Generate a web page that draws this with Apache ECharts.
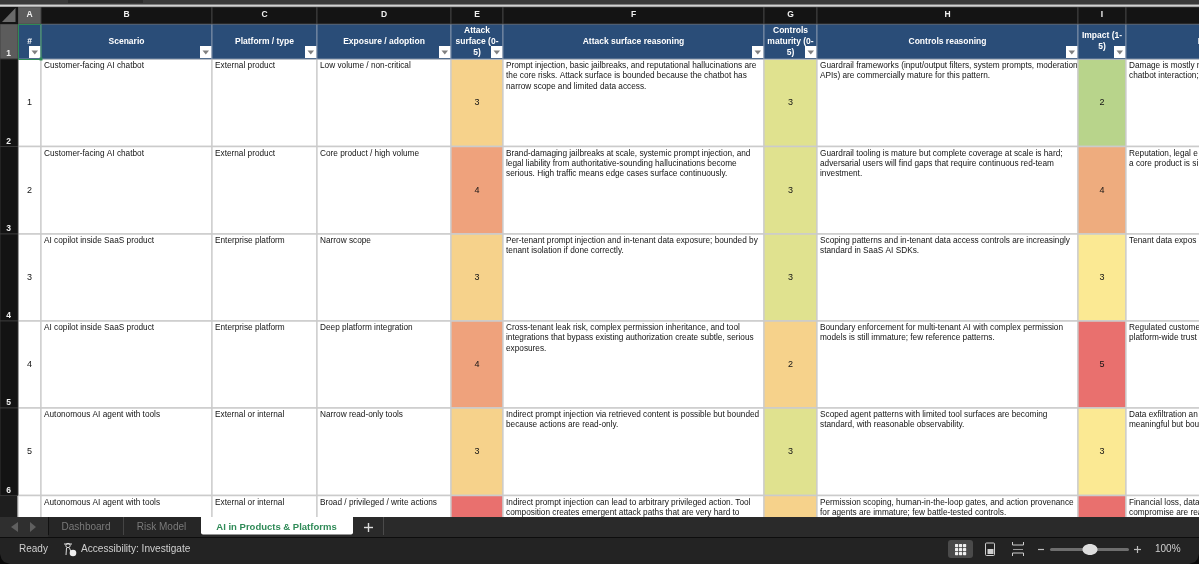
<!DOCTYPE html>
<html>
<head>
<meta charset="utf-8">
<title>AI in Products & Platforms</title>
<script src="https://cdn.jsdelivr.net/npm/echarts@6/dist/echarts.min.js"></script>
<style>
    html, body { margin: 0; padding: 0; background: #1e1e1e; }
    #sheet { width: 1199px; height: 564px; }
</style>
</head>
<body>
<div id="sheet"></div>
<script>
// Sheet contents
const columnLetters = ['A', 'B', 'C', 'D', 'E', 'F', 'G', 'H', 'I', ''];
const sheetRowLabels = ['1', '2', '3', '4', '5', '6'];
const headers = ['#', 'Scenario', 'Platform / type', 'Exposure / adoption', 'Attack\nsurface (0-\n5)', 'Attack surface reasoning',
    'Controls\nmaturity (0-\n5)', 'Controls reasoning', 'Impact (1-\n5)', 'Impact reasoning'];
const rowNumbers = [1, 2, 3, 4, 5, 6];
const scenarios = ['Customer-facing AI chatbot', 'Customer-facing AI chatbot', 'AI copilot inside SaaS product',
    'AI copilot inside SaaS product', 'Autonomous AI agent with tools', 'Autonomous AI agent with tools'];
const platforms = ['External product', 'External product', 'Enterprise platform', 'Enterprise platform',
    'External or internal', 'External or internal'];
const exposures = ['Low volume / non-critical', 'Core product / high volume', 'Narrow scope', 'Deep platform integration',
    'Narrow read-only tools', 'Broad / privileged / write actions'];
const attackScores = [3, 4, 3, 4, 3, 5];
const attackReasoning = [
    'Prompt injection, basic jailbreaks, and reputational hallucinations are\nthe core risks. Attack surface is bounded because the chatbot has\nnarrow scope and limited data access.',
    'Brand-damaging jailbreaks at scale, systemic prompt injection, and\nlegal liability from authoritative-sounding hallucinations become\nserious. High traffic means edge cases surface continuously.',
    'Per-tenant prompt injection and in-tenant data exposure; bounded by\ntenant isolation if done correctly.',
    'Cross-tenant leak risk, complex permission inheritance, and tool\nintegrations that bypass existing authorization create subtle, serious\nexposures.',
    'Indirect prompt injection via retrieved content is possible but bounded\nbecause actions are read-only.',
    'Indirect prompt injection can lead to arbitrary privileged action. Tool\ncomposition creates emergent attack paths that are very hard to'
];
const controlsScores = [3, 3, 3, 2, 3, 2];
const controlsReasoning = [
    'Guardrail frameworks (input/output filters, system prompts, moderation\nAPIs) are commercially mature for this pattern.',
    'Guardrail tooling is mature but complete coverage at scale is hard;\nadversarial users will find gaps that require continuous red-team\ninvestment.',
    'Scoping patterns and in-tenant data access controls are increasingly\nstandard in SaaS AI SDKs.',
    'Boundary enforcement for multi-tenant AI with complex permission\nmodels is still immature; few reference patterns.',
    'Scoped agent patterns with limited tool surfaces are becoming\nstandard, with reasonable observability.',
    'Permission scoping, human-in-the-loop gates, and action provenance\nfor agents are immature; few battle-tested controls.'
];
const impactScores = [2, 4, 3, 5, 3, 5];
const impactReasoning = [
    'Damage is mostly n\nchatbot interaction;',
    'Reputation, legal e\na core product is si',
    'Tenant data expos',
    'Regulated custome\nplatform-wide trust l',
    'Data exfiltration an\nmeaningful but bou',
    'Financial loss, data\ncompromise are rea'
];
const tabNames = ['Dashboard', 'Risk Model', 'AI in Products & Platforms'];

// Layout of the sheet, in window pixels
const columnEdges = [18, 41, 212, 317, 451, 503, 764, 817, 1078, 1126, 1340];
const rowEdges = [59, 146.5, 234, 321, 408, 495.5, 583];
const headerTop = 24;
const headerBottom = 59;
const FONT = '"Liberation Sans", Arial, sans-serif';

const tableColumns = [rowNumbers, scenarios, platforms, exposures, attackScores, attackReasoning,
    controlsScores, controlsReasoning, impactScores, impactReasoning];
const scoreColors = {
    4: {3: '#F6D28B', 4: '#EFA27C', 5: '#E9706E'},
    6: {2: '#F6D28B', 3: '#E0E28F'},
    8: {2: '#B8D48B', 3: '#FBE993', 4: '#EEAC7E', 5: '#E9706E'}
};

const cellData = [];
tableColumns.forEach((column, c) => {
    column.forEach((value, r) => cellData.push([c, r]));
});

function textEl(x, y, text, fill, size, weight, align) {
    return {
        type: 'text',
        style: {
            x: x, y: y, text: text, fill: fill, fontSize: size, fontFamily: FONT,
            fontWeight: weight || 'normal', align: align || 'left', verticalAlign: 'middle'
        }
    };
}

function rectEl(x0, y0, x1, y1, fill, stroke, lineWidth) {
    return {
        type: 'rect',
        shape: {x: x0, y: y0, width: x1 - x0, height: y1 - y0},
        style: {fill: fill, stroke: stroke || null, lineWidth: lineWidth || 0}
    };
}

function renderCell(params, api) {
    const c = api.value(0);
    const r = api.value(1);
    const topLeft = api.coord([columnEdges[c], rowEdges[r]]);
    const bottomRight = api.coord([columnEdges[c + 1], rowEdges[r + 1]]);
    const value = tableColumns[c][r];
    const fill = scoreColors[c] ? scoreColors[c][value] : '#ffffff';
    const children = [rectEl(topLeft[0], topLeft[1], bottomRight[0], bottomRight[1], fill, '#cbcbcb', 1.3)];
    if (typeof value === 'number') {
        children.push(textEl((topLeft[0] + bottomRight[0]) / 2, (topLeft[1] + bottomRight[1]) / 2, String(value), '#141414', 9, 'normal', 'center'));
    } else {
        value.split('\n').forEach((line, i) => {
            children.push(textEl(topLeft[0] + 3, topLeft[1] + 6.8 + i * 10.3, line, '#141414', 8.25));
        });
    }
    return {type: 'group', children: children};
}

function renderHeader(params, api) {
    const c = api.value(0);
    const topLeft = api.coord([columnEdges[c], headerTop]);
    const bottomRight = api.coord([columnEdges[c + 1], headerBottom]);
    const centerX = (topLeft[0] + bottomRight[0]) / 2;
    const centerY = (topLeft[1] + bottomRight[1]) / 2;
    const lines = headers[c].split('\n');
    const children = [rectEl(topLeft[0], topLeft[1], bottomRight[0], bottomRight[1], '#2A4D78', '#8f9eb2', 0.8)];
    lines.forEach((line, i) => {
        children.push(textEl(centerX, centerY + (i - (lines.length - 1) / 2) * 11, line, '#ffffff', 8.5, 'bold', 'center'));
    });
    if (c < headers.length - 1) {
        // filter button
        const bx = bottomRight[0] - 12;
        const by = bottomRight[1] - 13;
        children.push(rectEl(bx, by, bx + 11.5, by + 12, '#ffffff'));
        children.push({
            type: 'polygon',
            shape: {points: [[bx + 2.5, by + 4.5], [bx + 9, by + 4.5], [bx + 5.75, by + 8.5]]},
            style: {fill: '#808080'}
        });
    }
    return {type: 'group', children: children};
}

function renderColumnLetter(params, api) {
    const c = api.value(0);
    const topLeft = api.coord([columnEdges[c], 7]);
    const bottomRight = api.coord([columnEdges[c + 1], headerTop]);
    const selected = c === 0;
    return {
        type: 'group',
        children: [
            rectEl(topLeft[0], topLeft[1], bottomRight[0], bottomRight[1], selected ? '#5c5c5c' : '#141414', '#4a4a4a', 0.8),
            textEl((topLeft[0] + bottomRight[0]) / 2, (topLeft[1] + bottomRight[1]) / 2 - 0.5, columnLetters[c], '#f0f0f0', 8.5, 'bold', 'center')
        ]
    };
}

function renderRowLabel(params, api) {
    const r = api.value(0);
    const top = r === 0 ? headerTop : rowEdges[r - 1];
    const bottom = r === 0 ? headerBottom : rowEdges[r];
    const topLeft = api.coord([0, top]);
    const bottomRight = api.coord([18, bottom]);
    return {
        type: 'group',
        children: [
            rectEl(topLeft[0], topLeft[1], bottomRight[0], bottomRight[1], r === 0 ? '#5c5c5c' : '#131313', '#3c3c3c', 0.8),
            textEl(8.5, bottomRight[1] - 5, sheetRowLabels[r], '#f0f0f0', 8.5, 'bold', 'center')
        ]
    };
}

// Window chrome: title strip, sheet tabs and status bar, laid over the table
function chromeElements() {
    const text = (x, y, str, fill, size, weight, align) => ({
        type: 'text', z: 20,
        style: {x: x, y: y, text: str, fill: fill, fontSize: size, fontFamily: FONT, fontWeight: weight || 'normal', align: align || 'left', verticalAlign: 'middle'}
    });
    const rect = (x, y, w, h, fill, r) => ({type: 'rect', z: 20, shape: {x: x, y: y, width: w, height: h, r: r || 0}, style: {fill: fill}});
    const line = (x1, y1, x2, y2, stroke, w) => ({type: 'line', z: 21, shape: {x1: x1, y1: y1, x2: x2, y2: y2}, style: {stroke: stroke, lineWidth: w || 1}});
    const poly = (points, fill) => ({type: 'polygon', z: 21, shape: {points: points}, style: {fill: fill}});
    const els = [
        // top strip
        rect(0, 0, 1199, 4.5, '#3a3a3a'),
        rect(68, 0, 75, 3, '#2b2b2b'),
        rect(0, 4.5, 1199, 2.2, '#d2d2d2'),
        rect(0, 7, 18, 17, '#141414'),
        poly([[15.5, 8], [15.5, 22], [2, 22]], '#6a6a6a'),
        // selected cell outline
        {type: 'rect', z: 21, shape: {x: 18.5, y: 24.5, width: 22.5, height: 35}, style: {fill: null, stroke: '#2f8a57', lineWidth: 1}},
        rect(39.5, 57.5, 3, 3, '#2f8a57'),
        // tab bar
        rect(0, 517, 1199, 21, '#2a2a2a'),
        rect(0, 517, 201, 21, '#262626'),
        rect(0, 517, 48, 21, '#2f2f2f'),
        poly([[18, 522], [18, 532], [11, 527]], '#5f5f5f'),
        poly([[30, 522], [30, 532], [36, 527]], '#5f5f5f'),
        line(48.5, 517, 48.5, 535, '#111111'),
        line(123.5, 517, 123.5, 535, '#444444'),
        rect(201, 517, 152, 17.5, '#ffffff', [0, 0, 2, 2]),
        line(383.5, 517, 383.5, 535, '#4a4a4a'),
        text(86, 527.5, tabNames[0], '#7a7a7a', 10, 'normal', 'center'),
        text(161.5, 527.5, tabNames[1], '#7a7a7a', 10, 'normal', 'center'),
        text(276.5, 527.5, tabNames[2], '#2f8a57', 9.5, 'bold', 'center'),
        line(364, 527.5, 373, 527.5, '#dddddd', 1.4),
        line(368.5, 523, 368.5, 532, '#dddddd', 1.4),
        // status bar
        rect(0, 537, 1199, 1, '#0d0d0d'),
        rect(0, 538, 1199, 26, '#232323'),
        poly([[0, 554], [1.5, 559], [4, 562], [10, 564], [0, 564]], '#0a0a0a'),
        poly([[1199, 554], [1197.5, 559], [1195, 562], [1189, 564], [1199, 564]], '#0a0a0a'),
        text(19, 549.5, 'Ready', '#cfcfcf', 10),
        text(81, 549.5, 'Accessibility: Investigate', '#cfcfcf', 10.1),
        // accessibility icon
        {type: 'circle', z: 21, shape: {cx: 68, cy: 545.5, r: 2.2}, style: {fill: null, stroke: '#dddddd', lineWidth: 1}},
        line(64, 544, 72, 544, '#dddddd', 1),
        line(66.5, 548, 66, 555, '#dddddd', 1),
        line(69.5, 548, 71, 552, '#dddddd', 1),
        {type: 'circle', z: 21, shape: {cx: 73, cy: 553, r: 3.3}, style: {fill: '#eeeeee'}},
        // view buttons
        rect(948, 540, 25, 18, '#4a4a4a', 3)
    ];
    [0, 1, 2].forEach(i => {
        [0, 1, 2].forEach(j => {
            els.push(rect(955 + i * 4, 544 + j * 4, 3.2, 3.2, '#f0f0f0', 0.6));
        });
    });
    els.push(
        {type: 'rect', z: 21, shape: {x: 985.5, y: 543, width: 9, height: 12.5, r: 1}, style: {fill: null, stroke: '#cfcfcf', lineWidth: 1}},
        rect(987.5, 549, 6, 5, '#cfcfcf'),
        line(1012.5, 542, 1012.5, 545, '#cfcfcf'),
        line(1012.5, 545, 1023.5, 545, '#cfcfcf'),
        line(1023.5, 542, 1023.5, 545, '#cfcfcf'),
        line(1013, 549.5, 1023, 549.5, '#9a9a9a'),
        line(1012.5, 553, 1023.5, 553, '#cfcfcf'),
        line(1012.5, 553, 1012.5, 556, '#cfcfcf'),
        line(1023.5, 553, 1023.5, 556, '#cfcfcf'),
        // zoom slider
        line(1038, 549.5, 1044, 549.5, '#bdbdbd', 1.2),
        rect(1050, 548, 79, 3, '#6e6e6e', 1.5),
        {type: 'ellipse', z: 21, shape: {cx: 1090, cy: 549.5, rx: 7.5, ry: 5.5}, style: {fill: '#dedede'}},
        line(1134, 549.5, 1141, 549.5, '#bdbdbd', 1.2),
        line(1137.5, 546, 1137.5, 553, '#bdbdbd', 1.2),
        text(1155, 549.5, '100%', '#cfcfcf', 10)
    );
    return els;
}

var sheetChart = echarts.init(document.getElementById('sheet'));

var option = {
    animation: false,
    backgroundColor: '#1e1e1e',
    grid: {left: 0, right: 0, top: 0, bottom: 0},
    xAxis: {type: 'value', min: 0, max: 1199, show: false},
    yAxis: {type: 'value', min: 0, max: 564, inverse: true, show: false},
    graphic: {elements: chromeElements()},
    series: [
        {type: 'custom', silent: true, clip: false, z: 2, renderItem: renderCell, data: cellData},
        {type: 'custom', silent: true, clip: false, z: 3, renderItem: renderHeader, data: headers.map((h, i) => [i])},
        {type: 'custom', silent: true, clip: false, z: 3, renderItem: renderColumnLetter, data: columnLetters.map((l, i) => [i])},
        {type: 'custom', silent: true, clip: false, z: 3, renderItem: renderRowLabel, data: sheetRowLabels.map((l, i) => [i])}
    ]
};

sheetChart.setOption(option);
</script>
</body>
</html>
